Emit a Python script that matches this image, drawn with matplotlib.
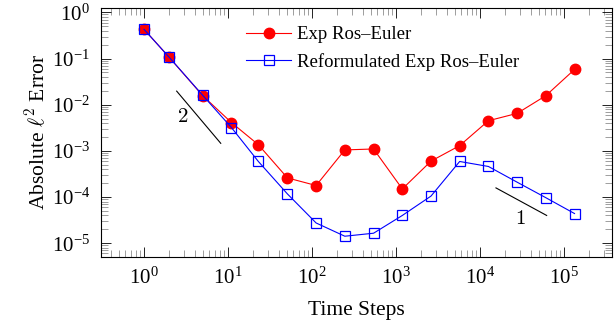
import matplotlib
matplotlib.use("Agg")
import matplotlib.pyplot as plt
from matplotlib.ticker import LogLocator, NullFormatter

plt.rcParams["font.family"] = ["Liberation Serif", "DejaVu Serif"]
plt.rcParams["mathtext.fontset"] = "cm"

# time steps and errors
steps = [1, 2, 5, 11, 23, 51, 112, 246, 541, 1190, 2610, 5730, 12600, 27700, 60800, 133500]
err_exp = [0.43, 0.106, 0.0157, 0.0041, 1.36e-3, 2.6e-4, 1.78e-4, 1.05e-3, 1.1e-3,
           1.5e-4, 6.0e-4, 1.3e-3, 4.5e-3, 6.5e-3, 0.0157, 0.058]
err_reform = [0.43, 0.106, 0.016, 3.2e-3, 5.9e-4, 1.17e-4, 2.75e-5, 1.42e-5, 1.65e-5,
              4.0e-5, 1.05e-4, 5.9e-4, 4.6e-4, 2.1e-4, 9.7e-5, 4.4e-5]

# slope guide lines
slope2_x = [2.45, 8.2]
slope2_y = [0.0197, 1.46e-3]
slope1_x = [15500, 62200]
slope1_y = [1.58e-4, 4.0e-5]

fig = plt.figure(figsize=(6.16, 3.22), dpi=100)
ax = fig.add_axes([0.164, 0.202, 0.8295, 0.773])

ax.plot(steps, err_exp, color="red", marker="o", markersize=7.5, linewidth=0.8,
        label="Exp Ros\u2013Euler")
ax.plot(steps, err_reform, color="blue", marker="s", markersize=7.5, linewidth=0.8,
        markerfacecolor="none", markeredgewidth=0.9, label="Reformulated Exp Ros\u2013Euler")

ax.plot(slope2_x, slope2_y, color="black", linewidth=0.8)
ax.plot(slope1_x, slope1_y, color="black", linewidth=0.8)
ax.text(2.91, 5.4e-3, "$2$", fontsize=15, ha="center", va="center")
ax.text(30500, 3.3e-5, "$1$", fontsize=15, ha="center", va="center")

ax.set_xscale("log")
ax.set_yscale("log")
ax.set_xlim(0.308, 3.73e5)
ax.set_ylim(5.05e-6, 1.24)

ax.xaxis.set_major_locator(LogLocator(base=10, numticks=20))
ax.xaxis.set_minor_locator(LogLocator(base=10, subs=range(2, 10), numticks=20))
ax.yaxis.set_major_locator(LogLocator(base=10, numticks=20))
ax.yaxis.set_minor_locator(LogLocator(base=10, subs=range(2, 10), numticks=20))
ax.xaxis.set_minor_formatter(NullFormatter())
ax.yaxis.set_minor_formatter(NullFormatter())

ax.tick_params(which="both", direction="in", top=True, right=True, labelsize=15)
ax.tick_params(which="major", length=7.5, width=0.6)
ax.tick_params(which="minor", length=5, width=0.5, color="#777777")
ax.tick_params(axis="x", pad=8)
ax.tick_params(axis="y", pad=8)
for s in ax.spines.values():
    s.set_linewidth(0.8)

ax.set_xlabel("Time Steps", fontsize=15.5, labelpad=8.5)
ax.set_ylabel(r"Absolute $\ell^2$ Error", fontsize=15.5, labelpad=1.5)

ax.legend(loc="upper left", bbox_to_anchor=(0.284, 0.928), frameon=False, fontsize=13.5,
          handlelength=2.4, handletextpad=0.32, labelspacing=0.52,
          borderpad=0, borderaxespad=0)

fig.savefig("out.png", dpi=100)
plt.close(fig)
